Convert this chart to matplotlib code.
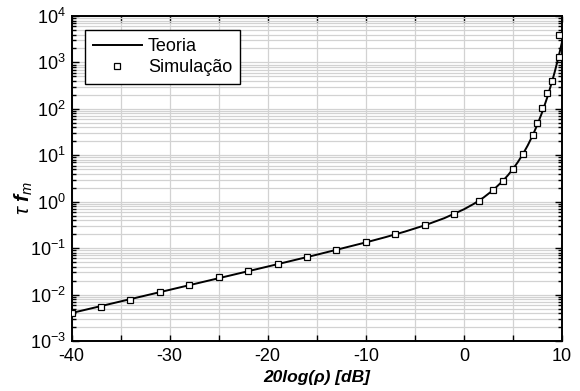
import matplotlib
matplotlib.use("Agg")
import matplotlib.pyplot as plt
from matplotlib.ticker import MultipleLocator, LogLocator, NullFormatter

plt.rcParams["font.family"] = ["Liberation Sans", "DejaVu Sans"]
plt.rcParams["mathtext.fontset"] = "custom"
plt.rcParams["mathtext.rm"] = "Liberation Sans"
plt.rcParams["mathtext.it"] = "Liberation Sans:italic"
plt.rcParams["mathtext.bf"] = "Liberation Sans:bold"
plt.rcParams["mathtext.bfit"] = "Liberation Sans:italic:bold"
plt.rcParams["axes.unicode_minus"] = False

# --- theoretical curve: normalized average fade duration ---
theory_db = [-40, -35, -30, -25, -20, -15, -10, -8, -6, -4, -2, 0, 1, 2, 3, 4,
             4.5, 5, 5.5, 6, 6.5, 7, 7.5, 8, 8.5, 9, 9.25, 9.5, 9.75, 10]
theory_tfm = [0.00399, 0.00710, 0.01262, 0.02247, 0.04009, 0.07208, 0.1327,
              0.1721, 0.2273, 0.3092, 0.4417, 0.6855, 0.8966, 1.229, 1.795,
              2.852, 3.743, 5.076, 7.148, 10.51, 16.25, 26.59, 46.41, 87.16,
              177.9, 398.6, 618.0, 992.0, 1634.0, 2779.0]

# --- simulated points ---
sim_db = [-40, -37, -34, -31, -28, -25, -22, -19, -16, -13, -10, -7, -4, -1,
          1.5, 3, 4, 5, 6, 7, 7.5, 8, 8.5, 9, 9.7, 9.7]
sim_tfm = [0.0041, 0.0055, 0.0078, 0.0113, 0.0160, 0.0235, 0.0325, 0.0455,
           0.0648, 0.0930, 0.136, 0.200, 0.308, 0.548, 1.05, 1.80, 2.82, 5.05,
           10.6, 26.8, 48.5, 104.0, 220.0, 404.0, 1330.0, 4000.0]

fig = plt.figure(figsize=(5.8, 3.91), dpi=100)
ax = fig.add_axes([0.1233, 0.128, 0.8457, 0.831])

ax.plot(theory_db, theory_tfm, color="black", lw=1.4, label="Teoria", zorder=3)
ax.plot(sim_db, sim_tfm, ls="none", marker="s", ms=4.6, mfc="white",
        mec="black", mew=0.9, label="Simulação", zorder=4)

ax.set_yscale("log")
ax.set_xlim(-40, 10)
ax.set_ylim(1e-3, 1e4)

ax.xaxis.set_major_locator(MultipleLocator(10))
ax.xaxis.set_minor_locator(MultipleLocator(5))
ax.yaxis.set_major_locator(LogLocator(base=10, numticks=20))
ax.yaxis.set_minor_locator(LogLocator(base=10, subs=range(2, 10), numticks=20))
ax.yaxis.set_minor_formatter(NullFormatter())

ax.grid(True, which="both", color="#d2d2d2", lw=0.9, zorder=0)
ax.set_axisbelow(True)

ax.tick_params(which="both", direction="in", top=True, right=True,
               labelsize=13, width=1.0, colors="black")
ax.tick_params(axis="x", which="both", length=4, pad=5)
ax.tick_params(axis="y", which="major", length=5, pad=4)
ax.tick_params(axis="y", which="minor", length=3)
for s in ax.spines.values():
    s.set_linewidth(1.4)

ax.set_xlabel("20log(ρ) [dB]", fontsize=12.5, fontweight="bold",
              fontstyle="italic", labelpad=4)
ax.set_ylabel(r"$\tau\ \mathbfit{f}_{m}$", fontsize=15)
ax.yaxis.set_label_coords(-0.075, 0.44)

leg = ax.legend(loc="upper left", bbox_to_anchor=(0.027, 0.957), fontsize=13,
                fancybox=False, framealpha=1, edgecolor="black",
                handlelength=2.7, handletextpad=0.35, borderpad=0.45,
                labelspacing=0.22, borderaxespad=0)
leg.get_frame().set_linewidth(1.0)

fig.savefig("out.png", dpi=100)
